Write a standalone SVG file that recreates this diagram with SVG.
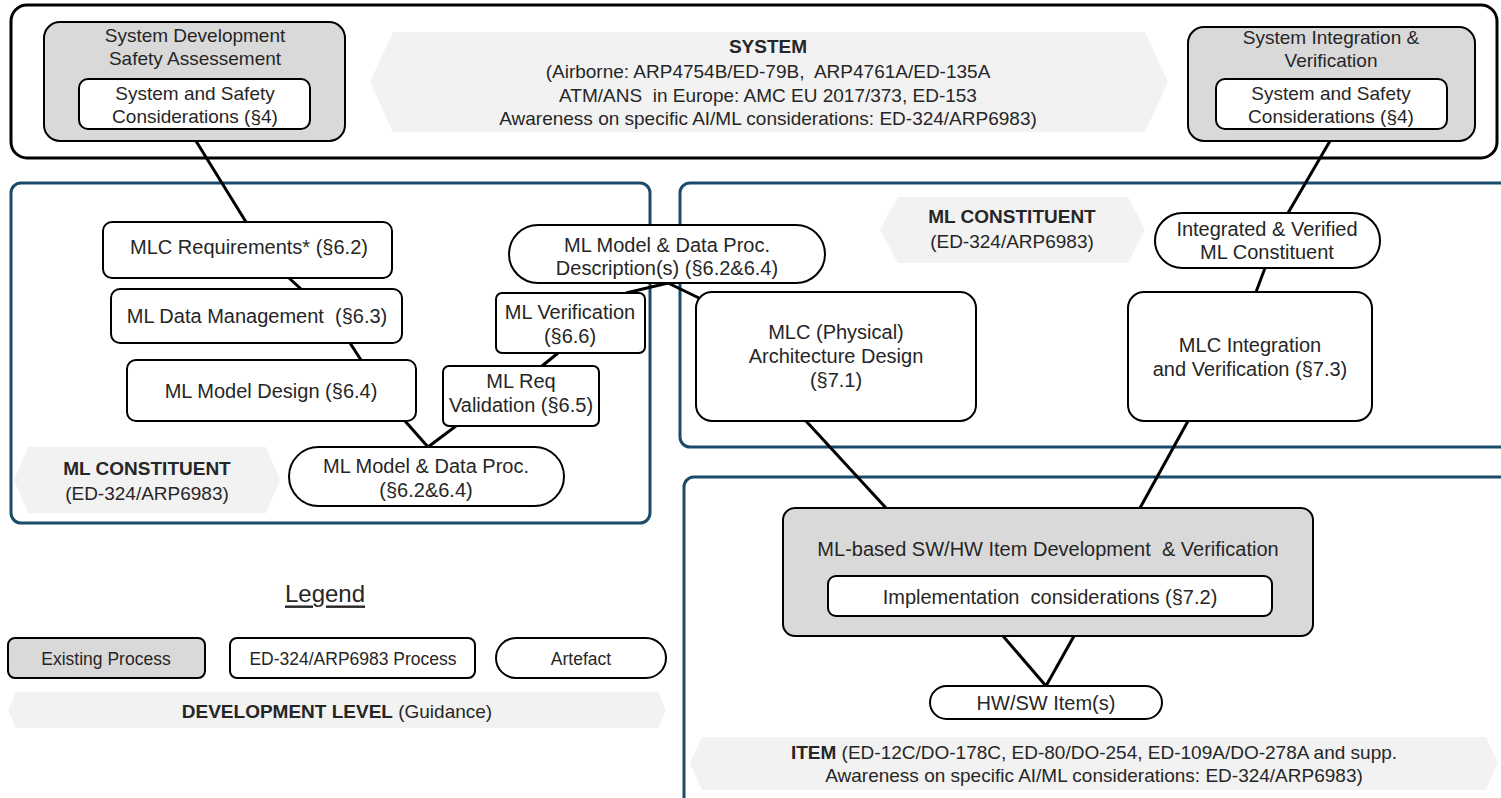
<svg xmlns="http://www.w3.org/2000/svg" width="1501" height="798" viewBox="0 0 1501 798">
  <style>
    text { font-family: "Liberation Sans", Arial, sans-serif; fill: #262626; text-anchor: middle; dominant-baseline: central; }
    .t { font-size: 19px; }
    .n { font-size: 20px; }
    .s { font-size: 17.5px; }
    .b { font-weight: bold; }
    .frame { fill: #ffffff; stroke: #000000; stroke-width: 3; }
    .zone { fill: none; stroke: #1b4b6b; stroke-width: 3; }
    .exist { fill: #d9d9d9; stroke: #000000; stroke-width: 2; }
    .proc { fill: #ffffff; stroke: #000000; stroke-width: 2; }
    .banner { fill: #f2f2f2; stroke: none; }
    .link { stroke: #000000; stroke-width: 3; fill: none; }
  </style>

  <!-- development level frames -->
  <g id="level-system">
    <rect class="frame" x="11" y="5" width="1486" height="153" rx="16"/>
    <polygon class="banner" points="393,32 1145,32 1168,82 1145,132 393,132 370,82"/>
    <text class="t b" x="768" y="46">SYSTEM</text>
    <text class="t" x="768" y="71">(Airborne: ARP4754B/ED-79B,&#160; ARP4761A/ED-135A</text>
    <text class="t" x="768" y="95">ATM/ANS&#160; in Europe: AMC EU 2017/373, ED-153</text>
    <text class="t" x="768" y="118">Awareness on specific AI/ML considerations: ED-324/ARP6983)</text>
  </g>

  <g id="level-mlc-left">
    <rect class="zone" x="11" y="183" width="639" height="340" rx="10"/>
    <polygon class="banner" points="28,447 266,447 280,480 266,513 28,513 14,480"/>
    <text class="t b" x="147" y="468">ML CONSTITUENT</text>
    <text class="t" x="147" y="493">(ED-324/ARP6983)</text>
  </g>

  <g id="level-mlc-right">
    <rect class="zone" x="680" y="183" width="840" height="264" rx="10"/>
    <polygon class="banner" points="898,197 1128,197 1145,230 1128,263 898,263 880,230"/>
    <text class="t b" x="1012" y="216">ML CONSTITUENT</text>
    <text class="t" x="1012" y="241">(ED-324/ARP6983)</text>
  </g>

  <g id="level-item">
    <rect class="zone" x="684" y="477" width="840" height="340" rx="10"/>
    <polygon class="banner" points="702,737 1486,737 1498,763 1486,790 702,790 690,763"/>
    <text class="t" x="1094" y="752"><tspan class="b">ITEM</tspan> (ED-12C/DO-178C, ED-80/DO-254, ED-109A/DO-278A and supp.</text>
    <text class="t" x="1094" y="775">Awareness on specific AI/ML considerations: ED-324/ARP6983)</text>
  </g>

  <!-- connectors -->
  <g id="connectors">
    <line class="link" x1="196" y1="141" x2="246" y2="222"/>
    <line class="link" x1="289" y1="278" x2="301" y2="289"/>
    <line class="link" x1="350" y1="343" x2="361" y2="360"/>
    <line class="link" x1="405" y1="421" x2="428" y2="447"/>
    <line class="link" x1="456" y1="426" x2="428" y2="447"/>
    <line class="link" x1="542" y1="366" x2="558" y2="353"/>
    <line class="link" x1="626" y1="293" x2="668" y2="283"/>
    <line class="link" x1="668" y1="283" x2="699" y2="298"/>
    <line class="link" x1="806" y1="421" x2="886" y2="508"/>
    <line class="link" x1="1188" y1="421" x2="1140" y2="508"/>
    <line class="link" x1="1256" y1="292" x2="1265" y2="268"/>
    <line class="link" x1="1288" y1="213" x2="1330" y2="141"/>
    <line class="link" x1="1003" y1="636" x2="1046" y2="686"/>
    <line class="link" x1="1074" y1="636" x2="1046" y2="686"/>
  </g>

  <!-- system level processes -->
  <g id="sdsa">
    <rect class="exist" x="44" y="22" width="301" height="119" rx="16"/>
    <text class="t" x="195" y="35">System Development</text>
    <text class="t" x="195" y="58">Safety Assessement</text>
    <rect class="proc" x="79" y="79" width="231" height="50" rx="9"/>
    <text class="t" x="195" y="93">System and Safety</text>
    <text class="t" x="195" y="116">Considerations (§4)</text>
  </g>

  <g id="siv">
    <rect class="exist" x="1188" y="27" width="287" height="114" rx="16"/>
    <text class="t" x="1331" y="37">System Integration &amp;</text>
    <text class="t" x="1331" y="60">Verification</text>
    <rect class="proc" x="1216" y="79" width="231" height="50" rx="9"/>
    <text class="t" x="1331" y="93">System and Safety</text>
    <text class="t" x="1331" y="116">Considerations (§4)</text>
  </g>

  <!-- ML constituent: requirements / design side -->
  <g id="mlc-req">
    <rect class="proc" x="103" y="222" width="289" height="56" rx="9"/>
    <text class="n" x="249" y="247">MLC Requirements* (§6.2)</text>
  </g>
  <g id="ml-data-mgmt">
    <rect class="proc" x="111" y="289" width="291" height="54" rx="9"/>
    <text class="n" x="257" y="316">ML Data Management&#160; (§6.3)</text>
  </g>
  <g id="ml-model-design">
    <rect class="proc" x="127" y="360" width="289" height="61" rx="9"/>
    <text class="n" x="271" y="391">ML Model Design (§6.4)</text>
  </g>
  <g id="ml-model-data">
    <rect class="proc" x="289" y="447" width="275" height="59" rx="29.5"/>
    <text class="n" x="426" y="466">ML Model &amp; Data Proc.</text>
    <text class="n" x="426" y="490">(§6.2&amp;6.4)</text>
  </g>
  <g id="ml-req-validation">
    <rect class="proc" x="443" y="366" width="156" height="60" rx="6"/>
    <text class="n" x="521" y="381">ML Req</text>
    <text class="n" x="521" y="405">Validation (§6.5)</text>
  </g>
  <g id="ml-verification">
    <rect class="proc" x="496" y="293" width="149" height="60" rx="6"/>
    <text class="n" x="570" y="312">ML Verification</text>
    <text class="n" x="570" y="336">(§6.6)</text>
  </g>
  <g id="ml-model-desc">
    <rect class="proc" x="509" y="225" width="316" height="58" rx="29"/>
    <text class="n" x="667" y="245">ML Model &amp; Data Proc.</text>
    <text class="n" x="667" y="268">Description(s) (§6.2&amp;6.4)</text>
  </g>

  <!-- ML constituent: architecture / integration side -->
  <g id="mlc-arch">
    <rect class="proc" x="696" y="292" width="280" height="129" rx="16"/>
    <text class="n" x="836" y="332">MLC (Physical)</text>
    <text class="n" x="836" y="356">Architecture Design</text>
    <text class="n" x="836" y="380">(§7.1)</text>
  </g>
  <g id="mlc-integration">
    <rect class="proc" x="1128" y="292" width="244" height="129" rx="16"/>
    <text class="n" x="1250" y="345">MLC Integration</text>
    <text class="n" x="1250" y="369">and Verification (§7.3)</text>
  </g>
  <g id="integrated-mlc">
    <rect class="proc" x="1155" y="213" width="225" height="55" rx="27.5"/>
    <text class="n" x="1267" y="229">Integrated &amp; Verified</text>
    <text class="n" x="1267" y="252">ML Constituent</text>
  </g>

  <!-- item level -->
  <g id="item-dev">
    <rect class="exist" x="783" y="508" width="530" height="128" rx="12"/>
    <text class="n" x="1048" y="549">ML-based SW/HW Item Development&#160; &amp; Verification</text>
    <rect class="proc" x="828" y="576" width="444" height="40" rx="8"/>
    <text class="n" x="1050" y="597">Implementation&#160; considerations (§7.2)</text>
  </g>
  <g id="hw-sw-item">
    <rect class="proc" x="930" y="686" width="232" height="33" rx="16.5"/>
    <text class="n" x="1046" y="703">HW/SW Item(s)</text>
  </g>

  <!-- legend -->
  <g id="legend">
    <text x="325" y="593" style="font-size:24px; text-decoration:underline;">Legend</text>
    <rect class="exist" x="8" y="638" width="197" height="40" rx="7"/>
    <text class="s" x="106" y="659">Existing Process</text>
    <rect class="proc" x="230" y="638" width="245" height="40" rx="7"/>
    <text class="s" x="353" y="659">ED-324/ARP6983 Process</text>
    <rect class="proc" x="496" y="638" width="170" height="40" rx="20"/>
    <text class="s" x="581" y="659">Artefact</text>
    <polygon class="banner" points="16,692 658,692 666,710 658,728 16,728 8,710"/>
    <text class="t" x="337" y="711"><tspan class="b">DEVELOPMENT LEVEL</tspan> (Guidance)</text>
  </g>
</svg>
